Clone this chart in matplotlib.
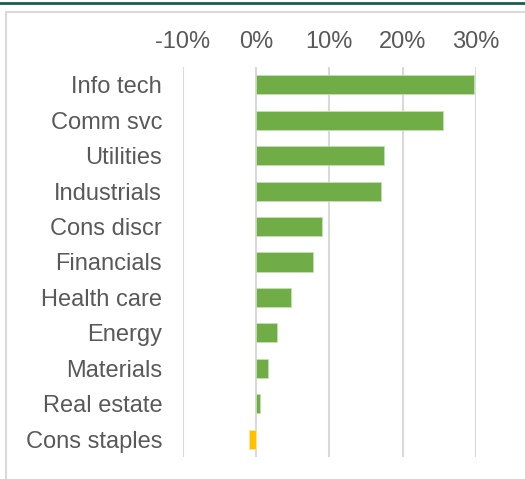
import matplotlib.pyplot as plt
from matplotlib.lines import Line2D
from matplotlib.patches import Rectangle
from matplotlib.ticker import FuncFormatter

# sector returns
sectors = ["Info tech", "Comm svc", "Utilities", "Industrials", "Cons discr",
           "Financials", "Health care", "Energy", "Materials", "Real estate",
           "Cons staples"]
returns = [29.8, 25.5, 17.5, 17.1, 9.0, 7.8, 4.8, 2.8, 1.6, 0.5, -1.0]
ticks = [-10, 0, 10, 20, 30]

green = "#70ad47"
gold = "#ffc000"
txt = "#595959"

plt.rcParams["font.family"] = ["Liberation Sans", "DejaVu Sans"]

fig = plt.figure(figsize=(5.25, 4.79), dpi=100)
ax = fig.add_axes([183 / 525, 22 / 479, 292.7 / 525, 390 / 479])

cols = [green if v >= 0 else gold for v in returns]
edges = ["#c5e0b4" if v >= 0 else "#ffe699" for v in returns]
ax.barh(range(len(sectors)), returns, height=0.54, color=cols,
        edgecolor=edges, linewidth=0.6, zorder=3)

ax.set_xlim(-10, 30)
ax.set_ylim(len(sectors) - 0.5, -0.5)
ax.set_xticks(ticks)
ax.xaxis.set_major_formatter(FuncFormatter(lambda v, p: "%d%%" % v))
ax.xaxis.tick_top()
ax.set_yticks(range(len(sectors)))
ax.set_yticklabels(sectors)
ax.tick_params(axis="x", length=0, pad=10, labelsize=17, labelcolor=txt)
ax.tick_params(axis="y", length=0, pad=15, labelsize=17, labelcolor=txt)
ax.grid(axis="x", color="#d9d9d9", linewidth=1.5, zorder=0)
for s in ax.spines.values():
    s.set_visible(False)

# frame: dark rule on top, light box border
fig.add_artist(Line2D([0, 1], [1 - 2.8 / 479, 1 - 2.8 / 479], color="#1d5c50",
                      linewidth=2, transform=fig.transFigure))
fig.add_artist(Rectangle((6 / 525, -0.05), 1.1, 1.05 - 12 / 479,
                         transform=fig.transFigure, fill=False,
                         edgecolor="#d9d9d9", linewidth=1.5))

fig.savefig("out.png", dpi=100)
